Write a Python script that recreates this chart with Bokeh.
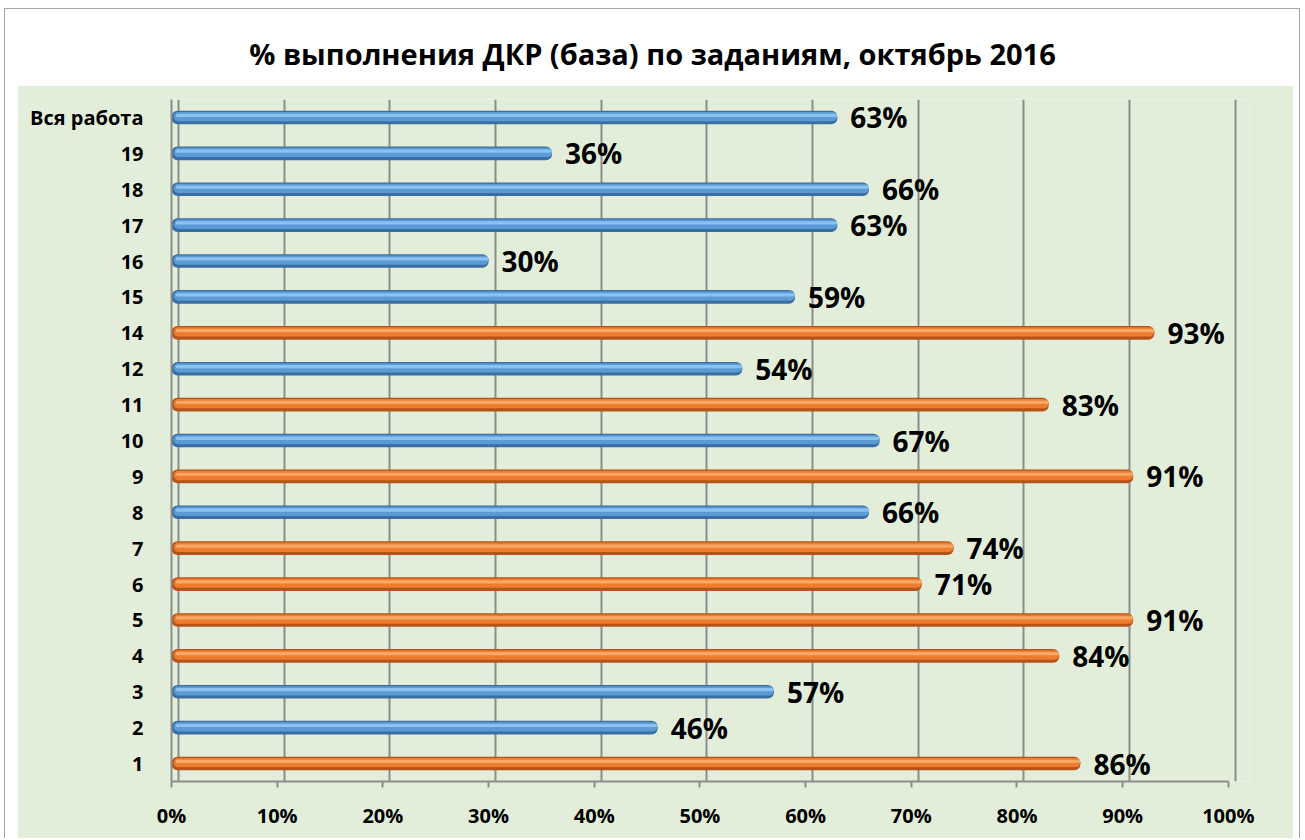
from bokeh.plotting import figure
from bokeh.models import (FactorRange, Range1d, NumeralTickFormatter, FixedTicker,
                          Grid, ColumnDataSource, Title, Spacer)
from bokeh.layouts import column, row
from bokeh.core.properties import value
from bokeh.transform import dodge
from bokeh.embed import file_html
from bokeh.resources import INLINE

# ---- data (bottom to top) ----
categories = ["1", "2", "3", "4", "5", "6", "7", "8", "9", "10", "11", "12",
              "14", "15", "16", "17", "18", "19", "Вся работа"]
percent = [86, 46, 57, 84, 91, 71, 74, 66, 91, 67, 83, 54, 93, 59, 30, 63, 66, 36, 63]
series = ["o", "b", "b", "o", "o", "o", "o", "b", "o", "b", "o", "b",
          "o", "b", "b", "b", "b", "b", "b"]
x_ticks = [0.0, 0.1, 0.2, 0.3, 0.4, 0.5, 0.6, 0.7, 0.8, 0.9, 1.0]
title_text = "% выполнения ДКР (база) по заданиям, октябрь 2016"

GREEN = "#E3EEDA"
GRID = "#8C8C8C"
palette = {
    "b": ("#3A6EA2", "#5B9BD5", "#8DC2F0"),
    "o": ("#B5531A", "#EE7C2E", "#F8A865"),
}

src = ColumnDataSource(dict(
    cat=categories,
    val=[v / 100 for v in percent],
    edge=[palette[s][0] for s in series],
    mid=[palette[s][1] for s in series],
    hi=[palette[s][2] for s in series],
    label=[f"{v}%" for v in percent],
))

# ---- title strip ----
t = figure(width=1294, height=76, x_range=Range1d(0, 1), y_range=Range1d(0, 1),
           x_axis_location=None, y_axis_location=None,
           toolbar_location=None, output_backend="svg",
           min_border_left=0, min_border_right=0, min_border_top=64, min_border_bottom=0,
           background_fill_color="white", border_fill_color="white",
           outline_line_color=None)
t.grid.visible = False
t.title = Title(text=title_text, align="center", standoff=2,
                text_font="Open Sans", text_font_style="bold",
                text_font_size="29px", text_color="black")

# ---- chart ----
p = figure(width=1276, height=753,
           y_range=FactorRange(*categories),
           x_range=Range1d(0, 1.02),
           output_backend="svg", toolbar_location=None,
           min_border_left=154, min_border_right=44,
           min_border_top=14, min_border_bottom=57,
           background_fill_color=GREEN, border_fill_color=GREEN,
           outline_line_color=None)
p.title.visible = False

# grid (back wall, shifted slightly like the 3D chart)
p.xgrid.visible = False
p.ygrid.visible = False
p.extra_x_ranges = {"wall": Range1d(-7 / 1057, 1.02 - 7 / 1057)}
p.add_layout(Grid(dimension=0, ticker=FixedTicker(ticks=x_ticks), x_range_name="wall",
                  grid_line_color=GRID, grid_line_width=2))

# bars (cylinder look)
p.hbar(y="cat", left=0, right="val", height=0.38, source=src,
       fill_color="edge", line_color=None, border_radius=6)
p.hbar(y=dodge("cat", 0.025, range=p.y_range), left=0.002, right="val", height=0.26, source=src,
       fill_color="mid", line_color=None, border_radius=5)
p.hbar(y=dodge("cat", 0.06, range=p.y_range), left=0.004, right="val", height=0.09, source=src,
       fill_color="hi", line_color=None, border_radius=3)

# value labels
p.text(x="val", y="cat", text="label", source=src, x_offset=13,
       text_baseline="middle", text_align="left",
       text_font=value("Open Sans"), text_font_style="bold",
       text_font_size="28px", text_color="black")

# x axis
xa = p.xaxis[0]
xa.ticker = FixedTicker(ticks=x_ticks)
xa.formatter = NumeralTickFormatter(format="0%")
xa.bounds = (0, 1)
xa.axis_line_color = GRID
xa.axis_line_width = 2
xa.major_tick_line_color = GRID
xa.major_tick_line_width = 2
xa.major_tick_out = 6
xa.major_tick_in = 0
xa.minor_tick_line_color = None
xa.major_label_standoff = 14
xa.major_label_text_font = "Open Sans"
xa.major_label_text_font_style = "bold"
xa.major_label_text_font_size = "20px"
xa.major_label_text_color = "black"

# y axis
ya = p.yaxis[0]
ya.axis_line_color = GRID
ya.axis_line_width = 2
ya.major_tick_line_color = None
ya.major_tick_out = 0
ya.minor_tick_line_color = None
ya.major_label_standoff = 28
ya.major_label_text_font = "Open Sans"
ya.major_label_text_font_style = "bold"
ya.major_label_text_font_size = "20px"
ya.major_label_text_color = "black"

inner = column(t, row(Spacer(width=12, height=753), p, Spacer(width=6, height=753)))
inner.styles = {"border": "1px solid #A6A6A6", "border-bottom": "none"}
root = column(Spacer(width=10, height=8), row(Spacer(width=4, height=10), inner))

open("out.html", "w").write(file_html(root, INLINE))
